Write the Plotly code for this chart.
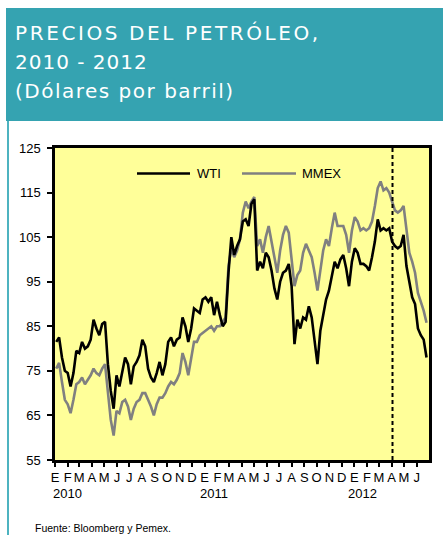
import pandas as pd
import plotly.graph_objects as go

# ---------------- data (weekly readings, Mondays from 2010-01-04) ----------------
week_start = "2010-01-04"
n_weeks = 130

wti_2010 = [81.5, 82.5, 78.0, 75.0, 74.5, 71.5, 74.5, 79.5, 79.0, 81.5, 80.0, 80.5, 82.0,
            86.5, 84.5, 83.0, 85.5, 86.0, 76.5, 70.5, 66.5, 74.0, 71.5, 75.0, 78.0, 76.5,
            72.0, 76.0, 77.0, 78.5, 82.0, 80.5, 75.5, 73.5, 72.5, 74.5, 77.0, 74.0, 76.5,
            81.5, 82.5, 80.5, 82.0, 82.5, 87.0, 85.0, 81.5, 84.5, 89.0, 88.5, 88.0, 91.0]
wti_2011 = [91.5, 90.5, 91.5, 87.5, 90.5, 87.5, 85.0, 86.0, 97.0, 105.0, 101.0, 103.0, 104.5,
            108.5, 109.0, 107.5, 112.5, 113.5, 97.5, 99.5, 98.0, 101.5, 100.5, 97.5, 93.5, 91.0,
            95.0, 97.0, 97.5, 99.0, 94.0, 81.0, 86.5, 84.5, 87.0, 86.5, 89.5, 87.0, 82.0,
            76.5, 84.0, 87.5, 91.0, 93.0, 96.0, 99.5, 98.0, 100.0, 101.0, 98.0, 94.0, 99.5]
wti_2012 = [102.5, 101.5, 99.0, 99.0, 98.5, 97.5, 100.5, 104.0, 109.0, 106.5, 107.0, 106.5, 107.0,
            104.0, 103.0, 102.5, 103.0, 105.5, 98.5, 94.5, 91.5, 90.0, 84.5, 83.0, 82.0, 78.0]

mmex_2010 = [75.5, 76.8, 72.5, 68.5, 67.5, 65.5, 68.5, 72.0, 72.5, 73.5, 72.0, 73.0, 74.0,
             75.5, 74.5, 74.0, 75.5, 76.5, 69.5, 64.0, 60.5, 66.0, 65.5, 68.0, 68.5, 67.0,
             64.0, 66.5, 68.0, 68.5, 70.0, 70.0, 68.5, 67.0, 65.0, 67.5, 69.0, 69.0, 70.0,
             71.5, 72.5, 72.0, 73.0, 74.5, 79.0, 77.0, 74.0, 77.5, 81.5, 81.5, 83.0, 83.5]
mmex_2011 = [84.0, 84.5, 85.0, 84.0, 85.0, 85.0, 86.0, 87.0, 98.5, 102.5, 100.5, 102.0, 104.5,
             110.5, 113.0, 111.5, 113.0, 114.0, 103.0, 104.5, 101.5, 105.0, 107.5, 104.0, 101.0, 97.0,
             102.0, 105.5, 107.5, 106.0, 100.0, 94.0, 96.5, 97.5, 101.5, 103.5, 102.0, 100.5, 97.0,
             93.0, 97.5, 102.0, 104.5, 103.0, 107.0, 110.5, 107.5, 107.5, 107.5, 105.5, 101.5, 106.5]
mmex_2012 = [109.5, 108.5, 106.5, 107.0, 106.5, 107.0, 108.5, 112.0, 116.0, 117.5, 115.5, 116.0, 115.0,
             113.0, 111.0, 110.5, 111.0, 112.0, 107.0, 101.5, 99.5, 97.0, 92.5, 90.5, 88.5, 85.8]

wti = wti_2010 + wti_2011 + wti_2012
mmex = mmex_2010 + mmex_2011 + mmex_2012
dates = pd.date_range(week_start, periods=n_weeks, freq="7D")

month_letters = ["E", "F", "M", "A", "M", "J", "J", "A", "S", "O", "N", "D"]
year_labels = ["2010", "2011", "2012"]
cutoff_date = "2012-04-03"
x_start, x_end = "2010-01-01", "2012-07-01"
y_ticks = [55, 65, 75, 85, 95, 105, 115, 125]

series_names = ["WTI", "MMEX"]
series_colors = ["#000000", "#808080"]

month_ticks = pd.date_range("2010-01-01", "2012-06-01", freq="MS")
month_text = [month_letters[d.month - 1] for d in month_ticks]

FONT = "Liberation Sans, Arial, sans-serif"
TFONT = "DejaVu Sans, sans-serif"

fig = go.Figure()
fig.add_trace(go.Scatter(x=dates, y=mmex, mode="lines", name=series_names[1],
                         line=dict(color=series_colors[1], width=2.6)))
fig.add_trace(go.Scatter(x=dates, y=wti, mode="lines", name=series_names[0],
                         line=dict(color=series_colors[0], width=2.6)))

# plot geometry helpers (pixels -> paper)
L, R, T, B = 55, 14, 148, 75
W, H = 443, 535
pw, ph = W - L - R, H - T - B
def px(x):
    return (x - L) / pw
def py(y):
    return (H - B - y) / ph

shapes = []
shapes.append(dict(type="rect", xref="paper", yref="paper", x0=px(6), x1=px(443), y0=py(8), y1=py(121),
                   fillcolor="#35A3B1", line=dict(width=0), layer="below"))
shapes.append(dict(type="line", xref="paper", yref="paper", x0=px(8), x1=px(8), y0=py(121), y1=py(535),
                   line=dict(color="#4DB3C0", width=2)))
shapes.append(dict(type="line", xref="x", yref="paper", x0=cutoff_date, x1=cutoff_date, y0=0, y1=1,
                   line=dict(color="black", width=2, dash="4px,3px")))
shapes.append(dict(type="line", xref="paper", yref="paper", x0=px(137), x1=px(190), y0=py(173.5), y1=py(173.5),
                   line=dict(color=series_colors[0], width=2.5)))
shapes.append(dict(type="line", xref="paper", yref="paper", x0=px(242), x1=px(296), y0=py(173.5), y1=py(173.5),
                   line=dict(color=series_colors[1], width=2.5)))

annotations = []
title_lines = ["PRECIOS DEL PETRÓLEO,", "2010 - 2012", "(Dólares por barril)"]
title_spacing = [2.6, 1.0, 1.5]
for txt, yc, sp in zip(title_lines, [33, 62, 91], title_spacing):
    annotations.append(dict(text=f'<span style="letter-spacing:{sp}px">{txt}</span>',
                            xref="paper", yref="paper", x=px(13), y=py(yc),
                            xanchor="left", yanchor="middle", showarrow=False,
                            font=dict(family=TFONT, size=20, color="white")))
annotations.append(dict(text=series_names[0], xref="paper", yref="paper", x=px(195), y=py(173.5),
                        xanchor="left", yanchor="middle", showarrow=False,
                        font=dict(family=FONT, size=13, color="black")))
annotations.append(dict(text=series_names[1], xref="paper", yref="paper", x=px(300), y=py(173.5),
                        xanchor="left", yanchor="middle", showarrow=False,
                        font=dict(family=FONT, size=13, color="black")))
for yl, xs in zip(year_labels, [-4, -7, -8]):
    annotations.append(dict(text=yl, xref="x", yref="paper", x=f"{yl}-01-01", y=py(493),
                            xanchor="left", yanchor="middle", xshift=xs, showarrow=False,
                            font=dict(family=FONT, size=13, color="black")))
annotations.append(dict(text="Fuente: Bloomberg y Pemex.", xref="paper", yref="paper", x=px(33), y=py(528),
                        xanchor="left", yanchor="middle", showarrow=False,
                        font=dict(family=FONT, size=10.5, color="black")))

fig.update_layout(
    width=W, height=H,
    margin=dict(l=L, r=R, t=T, b=B),
    paper_bgcolor="white",
    plot_bgcolor="#FFFF99",
    showlegend=False,
    shapes=shapes,
    annotations=annotations,
    font=dict(family=FONT, size=13, color="black"),
)
fig.update_xaxes(range=[x_start, x_end], tickmode="array", tickvals=month_ticks, ticktext=month_text,
                 ticks="outside", ticklen=4, tickwidth=1.5, tickcolor="black",
                 showline=True, linecolor="black", linewidth=2.5, mirror=True,
                 showgrid=False, zeroline=False, tickangle=0,
                 tickfont=dict(family=FONT, size=13, color="black"))
fig.update_yaxes(range=[55, 125], tickmode="array", tickvals=y_ticks,
                 ticks="outside", ticklen=5, tickwidth=2, tickcolor="black",
                 showline=True, linecolor="black", linewidth=2.5, mirror=True,
                 showgrid=False, zeroline=False, ticklabelstandoff=4,
                 tickfont=dict(family=FONT, size=13, color="black"))

fig.write_html("out.html", config={"displayModeBar": False},
               post_script="document.body.style.margin='0';")
